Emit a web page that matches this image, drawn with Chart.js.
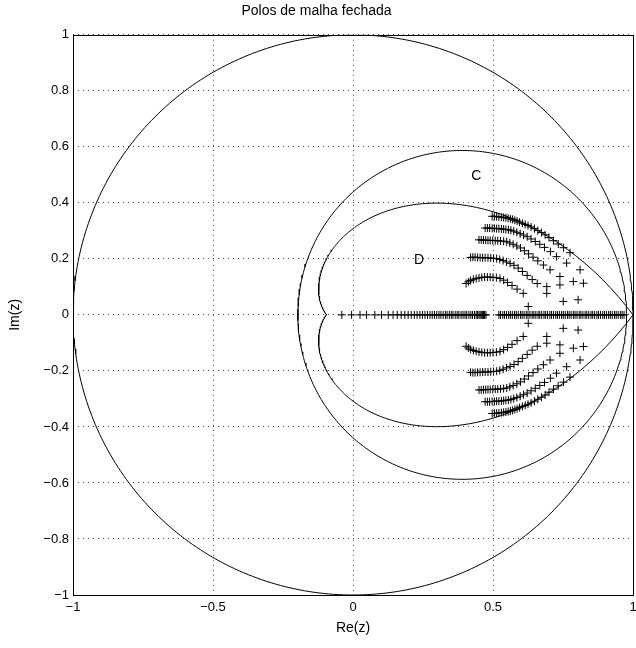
<!DOCTYPE html>
<html>
<head>
<meta charset="utf-8">
<title>Polos de malha fechada</title>
<style>
  html, body { margin: 0; padding: 0; background: #fff; overflow: hidden; }
</style>
<script src="https://cdn.jsdelivr.net/npm/chart.js"></script>
</head>
<body>
<canvas id="polos" width="660" height="648"></canvas>
<script>
// regiao C: circulo (centro, raio); regiao D: contorno de amortecimento constante
const circuloC = [0.39, 0.587];
const zetaD = 0.6;

// polos reais de malha fechada
const polosReais = [-0.04, -0.005, 0.025, 0.048, 0.078, 0.102, 0.126, 0.143, 0.158, 0.172,
  0.185, 0.197, 0.208, 0.219, 0.229, 0.239, 0.248, 0.257, 0.266, 0.275, 0.283, 0.291,
  0.299, 0.307, 0.314, 0.322, 0.33, 0.336, 0.344, 0.351, 0.357, 0.365, 0.372, 0.378,
  0.386, 0.393, 0.4, 0.406, 0.414, 0.421, 0.427, 0.434, 0.44, 0.445, 0.45, 0.454,
  0.458, 0.462, 0.466, 0.47, 0.475,
  0.521, 0.527, 0.535, 0.541, 0.548, 0.556, 0.562, 0.569, 0.577, 0.583, 0.59, 0.598,
  0.604, 0.611, 0.619, 0.625, 0.632, 0.64, 0.646, 0.653, 0.661, 0.667, 0.674, 0.682,
  0.688, 0.695, 0.703, 0.709, 0.716, 0.724, 0.73, 0.737, 0.745, 0.751, 0.758, 0.766,
  0.772, 0.779, 0.787, 0.793, 0.8, 0.808, 0.814, 0.821, 0.829, 0.835, 0.842, 0.85,
  0.856, 0.863, 0.871, 0.877, 0.884, 0.892, 0.898, 0.905, 0.913, 0.919, 0.926, 0.934,
  0.94, 0.947, 0.955, 0.961, 0.968];

// polos complexos (semiplano superior); os conjugados sao espelhados
const ramo1 = [[0.497, 0.352], [0.505, 0.352], [0.513, 0.351], [0.521, 0.35], [0.53, 0.349],
  [0.538, 0.348], [0.546, 0.347], [0.554, 0.345], [0.562, 0.343], [0.57, 0.341],
  [0.578, 0.338], [0.586, 0.335], [0.595, 0.331], [0.605, 0.327], [0.615, 0.323],
  [0.625, 0.319], [0.636, 0.314], [0.648, 0.308], [0.66, 0.301], [0.673, 0.294],
  [0.686, 0.286], [0.7, 0.276], [0.716, 0.265], [0.733, 0.253], [0.752, 0.24],
  [0.775, 0.222]];
const ramo2 = [[0.472, 0.31], [0.48, 0.31], [0.488, 0.31], [0.497, 0.309], [0.505, 0.309],
  [0.513, 0.308], [0.521, 0.308], [0.53, 0.307], [0.538, 0.306], [0.546, 0.305],
  [0.555, 0.304], [0.564, 0.302], [0.574, 0.299], [0.585, 0.295], [0.597, 0.29],
  [0.609, 0.285], [0.622, 0.279], [0.636, 0.271], [0.651, 0.262], [0.667, 0.252],
  [0.684, 0.241], [0.705, 0.226], [0.727, 0.208], [0.763, 0.185]];
const ramo3 = [[0.45, 0.268], [0.458, 0.268], [0.466, 0.267], [0.474, 0.267], [0.482, 0.266],
  [0.49, 0.266], [0.499, 0.266], [0.508, 0.265], [0.517, 0.265], [0.527, 0.264],
  [0.538, 0.263], [0.549, 0.261], [0.56, 0.257], [0.572, 0.252], [0.585, 0.246],
  [0.598, 0.239], [0.612, 0.229], [0.627, 0.218], [0.643, 0.206], [0.66, 0.193],
  [0.68, 0.178], [0.704, 0.161], [0.739, 0.137]];
const ramo4 = [[0.42, 0.205], [0.428, 0.206], [0.436, 0.206], [0.445, 0.205], [0.454, 0.205],
  [0.463, 0.204], [0.472, 0.204], [0.482, 0.204], [0.492, 0.203], [0.502, 0.202],
  [0.513, 0.201], [0.524, 0.198], [0.536, 0.194], [0.548, 0.189], [0.561, 0.184],
  [0.575, 0.177], [0.59, 0.167], [0.605, 0.155], [0.622, 0.141], [0.64, 0.126],
  [0.658, 0.112]];
const ramo5 = [[0.404, 0.112], [0.412, 0.118], [0.42, 0.123], [0.43, 0.127], [0.44, 0.13],
  [0.45, 0.132], [0.46, 0.134], [0.47, 0.135], [0.48, 0.135], [0.49, 0.135],
  [0.5, 0.134], [0.512, 0.133], [0.525, 0.13], [0.538, 0.124], [0.552, 0.116],
  [0.568, 0.105], [0.586, 0.092], [0.608, 0.077]];
const avulsos = [[0.626, 0.03], [0.692, 0.077], [0.692, 0.101], [0.739, 0.107],
  [0.751, 0.048], [0.787, 0.119], [0.804, 0.054], [0.811, 0.161], [0.823, 0.113]];

// rotulos das regioes
const rotulos = [['C', 0.44, 0.495], ['D', 0.236, 0.196]];

const fonte = "'Liberation Sans', Arial, Helvetica, sans-serif";

function circulo(cx, r) {
  const pts = [];
  for (let i = 0; i <= 360; i++) {
    const a = i * Math.PI / 180;
    pts.push({ x: cx + r * Math.cos(a), y: r * Math.sin(a) });
  }
  return pts;
}

// espiral |z| = exp(-k*theta) do plano z para zeta constante
function contornoZeta(zeta) {
  const k = zeta / Math.sqrt(1 - zeta * zeta);
  const pts = [];
  for (let i = -180; i <= 180; i++) {
    const th = i * Math.PI / 180;
    const r = Math.exp(-k * Math.abs(th));
    pts.push({ x: r * Math.cos(th), y: r * Math.sin(th) });
  }
  return pts;
}

const complexos = [ramo1, ramo2, ramo3, ramo4, ramo5, avulsos].flat();
const polosComplexos = complexos.map(p => ({ x: p[0], y: p[1] }))
  .concat(complexos.map(p => ({ x: p[0], y: -p[1] })));

function rotuloTick(v) {
  const s = String(Math.round(v * 10) / 10);
  return s.replace('-', '\u2212');
}

const moldura = {
  id: 'moldura',
  afterDatasetsDraw(chart) {
    const { ctx, chartArea: a, scales } = chart;
    ctx.save();
    ctx.strokeStyle = '#000';
    ctx.lineWidth = 1;
    ctx.strokeRect(Math.round(a.left) + 0.5, Math.round(a.top) + 0.5,
      Math.round(a.right - a.left), Math.round(a.bottom - a.top));
    ctx.fillStyle = '#000';
    ctx.font = '14px ' + fonte;
    ctx.textAlign = 'center';
    ctx.textBaseline = 'middle';
    rotulos.forEach(([t, x, y]) => {
      ctx.fillText(t, scales.x.getPixelForValue(x), scales.y.getPixelForValue(y));
    });
    ctx.restore();
  }
};

const linha = { showLine: true, pointRadius: 0, borderColor: '#000', borderWidth: 1, fill: false, tension: 0 };
const marca = { showLine: false, pointStyle: 'cross', pointRadius: 4, borderColor: '#000', borderWidth: 1 };

new Chart(document.getElementById('polos'), {
  type: 'scatter',
  data: {
    datasets: [
      Object.assign({ data: circulo(0, 1) }, linha),
      Object.assign({ data: circulo(circuloC[0], circuloC[1]) }, linha),
      Object.assign({ data: contornoZeta(zetaD) }, linha),
      Object.assign({ data: polosReais.map(x => ({ x: x, y: 0 })) }, marca),
      Object.assign({ data: polosComplexos }, marca)
    ]
  },
  options: {
    responsive: false,
    animation: false,
    devicePixelRatio: 1,
    layout: { padding: { left: 0, right: 27, top: 0, bottom: 0 } },
    plugins: {
      legend: { display: false },
      tooltip: { enabled: false },
      title: {
        display: true,
        text: 'Polos de malha fechada',
        color: '#000',
        font: { family: fonte, size: 14, weight: 'normal' },
        padding: { top: 3, bottom: 15 }
      }
    },
    scales: {
      x: {
        type: 'linear', min: -1, max: 1,
        afterFit(s) { s.height = 53; },
        ticks: { stepSize: 0.5, color: '#000', padding: 5, maxRotation: 0,
          font: { family: fonte, size: 13 }, callback: rotuloTick },
        grid: { color: '#444', drawTicks: false, lineWidth: 1 },
        border: { display: false, dash: [1, 4] },
        title: { display: true, text: 'Re(z)', color: '#000',
          font: { family: fonte, size: 14 }, padding: { top: 0, bottom: 11 } }
      },
      y: {
        type: 'linear', min: -1, max: 1,
        afterFit(s) { s.width = 73; },
        ticks: { stepSize: 0.2, color: '#000', padding: 4,
          font: { family: fonte, size: 13 }, callback: rotuloTick },
        grid: { color: '#444', drawTicks: false, lineWidth: 1 },
        border: { display: false, dash: [1, 4] },
        title: { display: true, text: 'Im(z)', color: '#000',
          font: { family: fonte, size: 14 }, padding: { top: 7, bottom: 0 } }
      }
    }
  },
  plugins: [moldura]
});
</script>
</body>
</html>
